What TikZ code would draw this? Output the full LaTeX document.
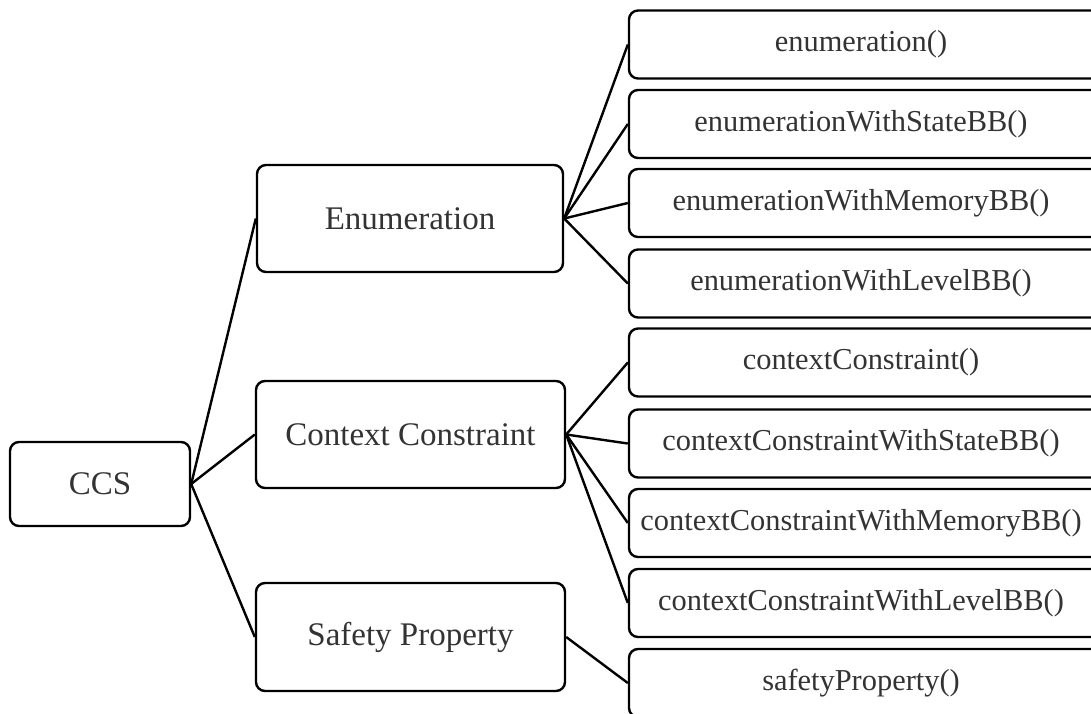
\documentclass[tikz,border=0pt]{standalone}
\usepackage{fontspec}
\setmainfont{Liberation Serif}
\begin{document}
\begin{tikzpicture}[x=0.5pt,y=-0.5pt,
  box/.style={draw=black,line width=1.2pt,rounded corners=4.5pt,inner sep=0pt,fill=white,text=black!80},
  big/.style={box,font=\fontsize{16.5}{18}\selectfont},
  small/.style={box,font=\fontsize{15.2}{17}\selectfont,minimum width=240pt,minimum height=34pt,
    execute at begin node={\hspace*{-8pt}}},
  link/.style={line width=1.2pt}]
\useasboundingbox (0,0) rectangle (1091,713);
\node[big,minimum width=90pt,minimum height=42pt] (ccs) at (100,484) {CCS};
\node[big,minimum width=153pt,minimum height=53.5pt] (enum) at (410,218.5) {Enumeration};
\node[big,minimum width=154.5pt,minimum height=53.5pt] (ctx) at (410.5,434.5) {Context Constraint};
\node[big,minimum width=154.5pt,minimum height=54pt] (safe) at (410.5,637) {Safety Property};
\node[small] (e1) at (869,44.5) {enumeration()};
\node[small] (e2) at (869,124) {enumerationWithStateBB()};
\node[small] (e3) at (869,203) {enumerationWithMemoryBB()};
\node[small] (e4) at (869,283.5) {enumerationWithLevelBB()};
\node[small] (c1) at (869,362.5) {contextConstraint()};
\node[small] (c2) at (869,443.5) {contextConstraintWithStateBB()};
\node[small] (c3) at (869,523) {contextConstraintWithMemoryBB()};
\node[small] (c4) at (869,603) {contextConstraintWithLevelBB()};
\node[small] (s1) at (869,683) {safetyProperty()};
\foreach \t in {enum,ctx,safe} \draw[link] (ccs.east) -- (\t.west);
\foreach \t in {e1,e2,e3,e4} \draw[link] (enum.east) -- (\t.west);
\foreach \t in {c1,c2,c3,c4} \draw[link] (ctx.east) -- (\t.west);
\draw[link] (safe.east) -- (s1.west);
\end{tikzpicture}
\end{document}
